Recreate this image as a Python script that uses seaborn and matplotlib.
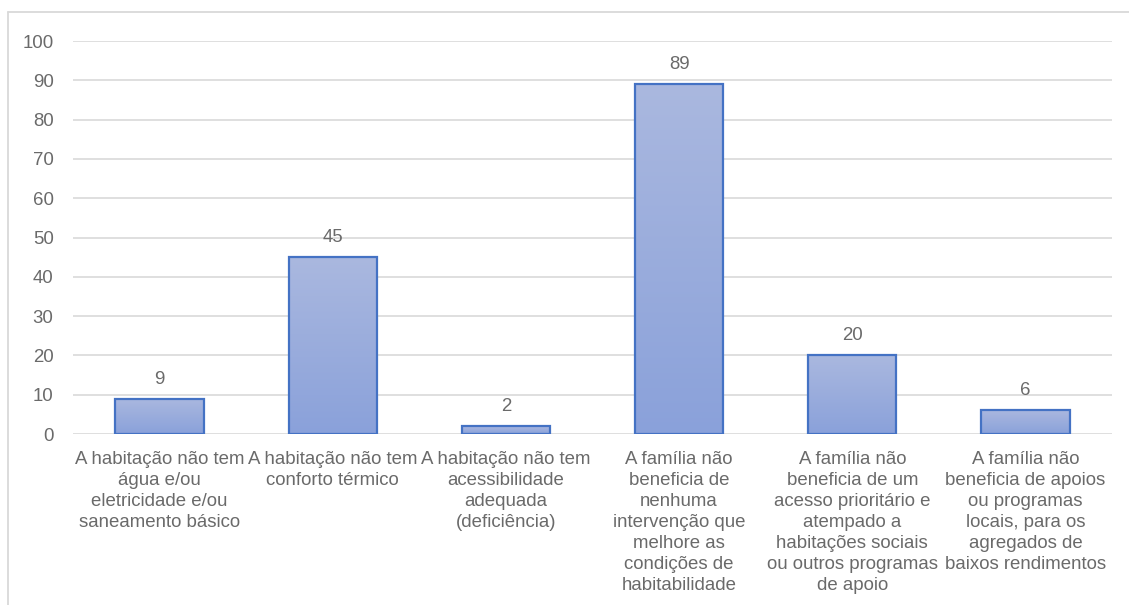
import numpy as np
import pandas as pd
import matplotlib.pyplot as plt
import matplotlib.colors as mcolors
import seaborn as sns

# ===================== data =====================
categories = [
    "A habitação não tem\nágua e/ou\neletricidade e/ou\nsaneamento básico",
    "A habitação não tem\nconforto térmico",
    "A habitação não tem\nacessibilidade\nadequada\n(deficiência)",
    "A família não\nbeneficia de\nnenhuma\nintervenção que\nmelhore as\ncondições de\nhabitabilidade",
    "A família não\nbeneficia de um\nacesso prioritário e\natempado a\nhabitações sociais\nou outros programas\nde apoio",
    "A família não\nbeneficia de apoios\nou programas\nlocais, para os\nagregados de\nbaixos rendimentos",
]
values = [9, 45, 2, 89, 20, 6]
yticks = [0, 10, 20, 30, 40, 50, 60, 70, 80, 90, 100]

df = pd.DataFrame({"cat": categories, "val": values})

# ===================== style =====================
sns.set_theme(style="white")
plt.rcParams['font.family'] = ['Liberation Sans', 'DejaVu Sans']
text_color = "#6A6A6A"
grid_color = "#D9D9D9"
edge_color = "#4472C4"
fs = 13.4

fig = plt.figure(figsize=(11.29, 6.05), dpi=100)
ax = fig.add_axes([0.0647, 0.2826, 0.9203, 0.6496])

sns.barplot(data=df, x="cat", y="val", color="#9AAEDD", width=0.51,
            edgecolor=edge_color, linewidth=1.6, ax=ax, zorder=3)

# gradient fill inside each bar
cmap = mcolors.LinearSegmentedColormap.from_list("bargrad", ["#8AA1DA", "#AAB8DF"])
grad = np.linspace(0, 1, 256).reshape(-1, 1)
for p in list(ax.patches):
    x0, y0 = p.get_x(), p.get_y()
    w, h = p.get_width(), p.get_height()
    p.set_facecolor("none")
    im = ax.imshow(grad, cmap=cmap, origin="lower", aspect="auto",
                   extent=[x0, x0 + w, y0, y0 + h], zorder=2.5,
                   interpolation="bilinear")
    im.set_clip_path(p)

ax.set_xlim(-0.5, len(categories) - 0.5)
ax.set_ylim(0, 100)
ax.set_yticks(yticks)
ax.yaxis.grid(True, color=grid_color, linewidth=1.2, zorder=0)
ax.set_axisbelow(True)
for s in ax.spines.values():
    s.set_visible(False)

ax.tick_params(axis="both", length=0, colors=text_color, labelsize=fs)
ax.tick_params(axis="y", pad=14)
ax.tick_params(axis="x", pad=12.5)
for lab in ax.get_xticklabels():
    lab.set_linespacing(1.3)
ax.set_xlabel("")
ax.set_ylabel("")

# value labels
ax.bar_label(ax.containers[0], labels=[str(v) for v in values],
             padding=8, color=text_color, fontsize=fs)

# outer chart frame (left and top edges visible)
fig.add_artist(plt.Line2D([0.0071, 0.0071], [0.0, 0.980], color=grid_color,
                          linewidth=1.3, transform=fig.transFigure))
fig.add_artist(plt.Line2D([0.0071, 1.0], [0.980, 0.980], color=grid_color,
                          linewidth=1.3, transform=fig.transFigure))

fig.savefig("out.png", dpi=100)
